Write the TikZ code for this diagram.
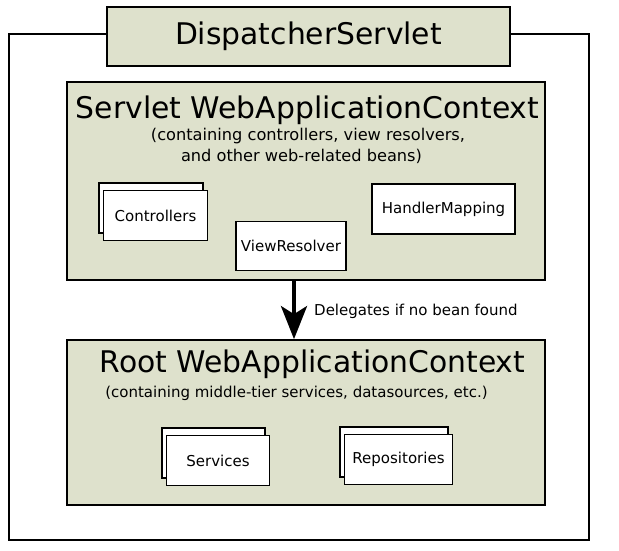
\documentclass[tikz,border=0pt]{standalone}
\usepackage{fontspec}
\setmainfont{DejaVu Sans}
\usetikzlibrary{arrows.meta,calc,positioning}
\definecolor{ctxgreen}{RGB}{222,225,204}

\tikzset{
  ctxbox/.style={draw, line width=1.8pt, fill=ctxgreen, inner sep=0pt},
  beanbox/.style={draw, line width=1.2pt, fill=white, inner sep=0pt,
    minimum height=50pt, font=\fontsize{15}{18}\selectfont},
  bigtitle/.style={font=\fontsize{29.8}{36}\selectfont, anchor=base, inner sep=0pt},
  smalltext/.style={font=\fontsize{15}{18}\selectfont, anchor=base, inner sep=0pt},
}

\begin{document}
\begin{tikzpicture}[x=1pt, y=-1pt]
        \useasboundingbox (0,0) rectangle (619,551);

        %% outer frame with DispatcherServlet on top
        \coordinate (frame_nw) at (9,34);
        \coordinate (frame_se) at (589,540);
        \node [ctxbox, minimum width=403pt, minimum height=59pt,
               font=\fontsize{29.8}{36}\selectfont] (disp) at (308.5,36.5) {\raisebox{-1pt}{DispatcherServlet}};
        \draw [line width=1.8pt] ($(disp.west)+(0,-2.5)$) -- (frame_nw) -- (frame_nw |- frame_se)
              -- (frame_se) -- (frame_se |- frame_nw) -- ($(disp.east)+(0,-2.5)$);

        %% servlet context
        \node [ctxbox, minimum width=478pt, minimum height=198pt] (servlet_ctx) at (306,181) {};
        \node [bigtitle] (servlet_title) at (307.5,118) {Servlet WebApplicationContext};
        \node [smalltext, font=\fontsize{16.2}{19}\selectfont] (servlet_sub_1) at (308,140.5) {(containing controllers, view resolvers,};
        \node [smalltext, font=\fontsize{16.2}{19}\selectfont] (servlet_sub_2) at (301.5,161.5) {and other web-related beans)};

        %% root context
        \node [ctxbox, minimum width=478pt, minimum height=165pt] (root_ctx) at (306,422.5) {};
        \node [bigtitle] (root_title) at (312.5,372) {Root WebApplicationContext};
        \node [smalltext] (root_sub) at (296.5,397) {(containing middle-tier services, datasources, etc.)};

        %% stacked beans
        \foreach \nm/\txt/\x/\y/\w in {ctrl/Controllers/151/208/104,
                                       svc/Services/213.5/453/103,
                                       repo/Repositories/394/452/108} {
          \node [beanbox, minimum width=\w pt] (\nm_back) at (\x,\y) {};
          \node [beanbox, minimum width=\w pt] (\nm_front) at ($(\nm_back)+(4.5,7.5)$) {\txt};
        }
        \node [beanbox, minimum width=110pt, minimum height=49pt] (view_res) at (291,246) {ViewResolver};
        \node [beanbox, minimum width=143pt] (handler_map) at (443.5,209) {HandlerMapping};

        %% delegation arrow
        \draw [line width=4pt, -{Stealth[length=33pt, width=26pt, inset=8pt]}]
              (servlet_ctx.south -| 294,0) -- (root_ctx.north -| 294,0);
        \node [smalltext, anchor=base west] (deleg) at (314,315) {Delegates if no bean found};

\end{tikzpicture}
\end{document}
